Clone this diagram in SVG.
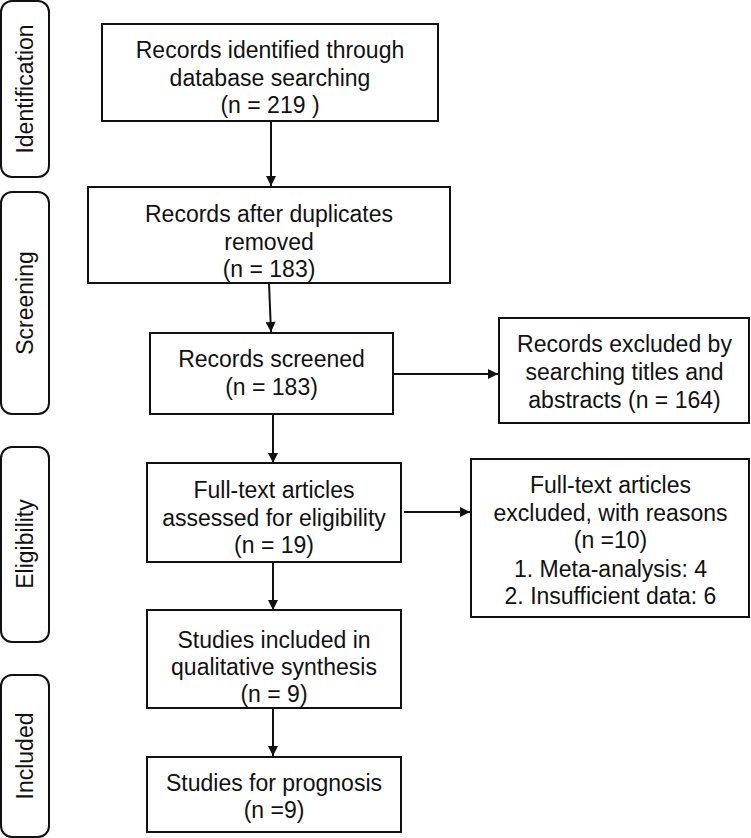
<svg xmlns="http://www.w3.org/2000/svg" width="751" height="838" viewBox="0 0 751 838">
<style>
.box{fill:#fff;stroke:#111;stroke-width:2}
.stage{fill:#fff;stroke:#111;stroke-width:2}
.t{font-family:"Liberation Sans",Arial,sans-serif;font-size:23px;fill:#111;text-anchor:middle}
.c{stroke:#111;stroke-width:2;fill:none;marker-end:url(#ah)}
</style>
<defs>
<marker id="ah" viewBox="0 0 10 10" refX="10" refY="5" markerWidth="5.5" markerHeight="5" orient="auto" markerUnits="strokeWidth">
<path d="M0,0 L10,5 L0,10 z" fill="#111"/>
</marker>
</defs>
<rect width="751" height="838" fill="#fff"/>
<g id="stage-identification">
<rect class="stage" x="1" y="1" width="48" height="176" rx="11"/>
<text class="t" transform="translate(33,89) rotate(-90)">Identification</text>
</g>
<g id="stage-screening">
<rect class="stage" x="1" y="192" width="48" height="222" rx="11"/>
<text class="t" transform="translate(33,303) rotate(-90)">Screening</text>
</g>
<g id="stage-eligibility">
<rect class="stage" x="1" y="447" width="48" height="195" rx="11"/>
<text class="t" transform="translate(33,544) rotate(-90)">Eligibility</text>
</g>
<g id="stage-included">
<rect class="stage" x="1" y="675" width="48" height="162" rx="11"/>
<text class="t" transform="translate(33,756) rotate(-90)">Included</text>
</g>
<g id="connectors">
<line class="c" x1="271" y1="121" x2="271" y2="186"/>
<line class="c" x1="269" y1="283" x2="271" y2="332"/>
<line class="c" x1="273" y1="414" x2="273" y2="463"/>
<line class="c" x1="393" y1="374" x2="498" y2="374"/>
<line class="c" x1="404" y1="512" x2="470" y2="512"/>
<line class="c" x1="273" y1="562" x2="273" y2="610"/>
<line class="c" x1="273" y1="708" x2="273" y2="756"/>
</g>
<g id="box1">
<rect class="box" x="102" y="24" width="336" height="97"/>
<text class="t" x="270" y="58">Records identified through</text>
<text class="t" x="270" y="86">database searching</text>
<text class="t" x="270" y="113">(n = 219 )</text>
</g>
<g id="box2">
<rect class="box" x="88" y="187" width="362" height="96"/>
<text class="t" x="269" y="222">Records after duplicates</text>
<text class="t" x="269" y="250">removed</text>
<text class="t" x="269" y="277">(n = 183)</text>
</g>
<g id="box3">
<rect class="box" x="150" y="333" width="243" height="81"/>
<text class="t" x="271.5" y="367">Records screened</text>
<text class="t" x="271.5" y="395">(n = 183)</text>
</g>
<g id="box4">
<rect class="box" x="147" y="463" width="254" height="99"/>
<text class="t" x="274" y="498">Full-text articles</text>
<text class="t" x="274" y="526">assessed for eligibility</text>
<text class="t" x="274" y="553">(n = 19)</text>
</g>
<g id="box5">
<rect class="box" x="499" y="318" width="250" height="105"/>
<text class="t" x="624.5" y="352">Records excluded by</text>
<text class="t" x="624.5" y="380">searching titles and</text>
<text class="t" x="624.5" y="408">abstracts (n = 164)</text>
</g>
<g id="box6">
<rect class="box" x="471" y="459" width="278" height="158"/>
<text class="t" x="610.5" y="493">Full-text articles</text>
<text class="t" x="610.5" y="521">excluded, with reasons</text>
<text class="t" x="610.5" y="548">(n =10)</text>
<text class="t" x="610.5" y="577">1. Meta-analysis: 4</text>
<text class="t" x="610.5" y="604">2. Insufficient data: 6</text>
</g>
<g id="box7">
<rect class="box" x="147" y="610" width="254" height="98"/>
<text class="t" x="274" y="648">Studies included in</text>
<text class="t" x="274" y="675">qualitative synthesis</text>
<text class="t" x="274" y="702">(n = 9)</text>
</g>
<g id="box8">
<rect class="box" x="147" y="757" width="254" height="75"/>
<text class="t" x="274" y="791">Studies for prognosis</text>
<text class="t" x="274" y="818">(n =9)</text>
</g>
</svg>
